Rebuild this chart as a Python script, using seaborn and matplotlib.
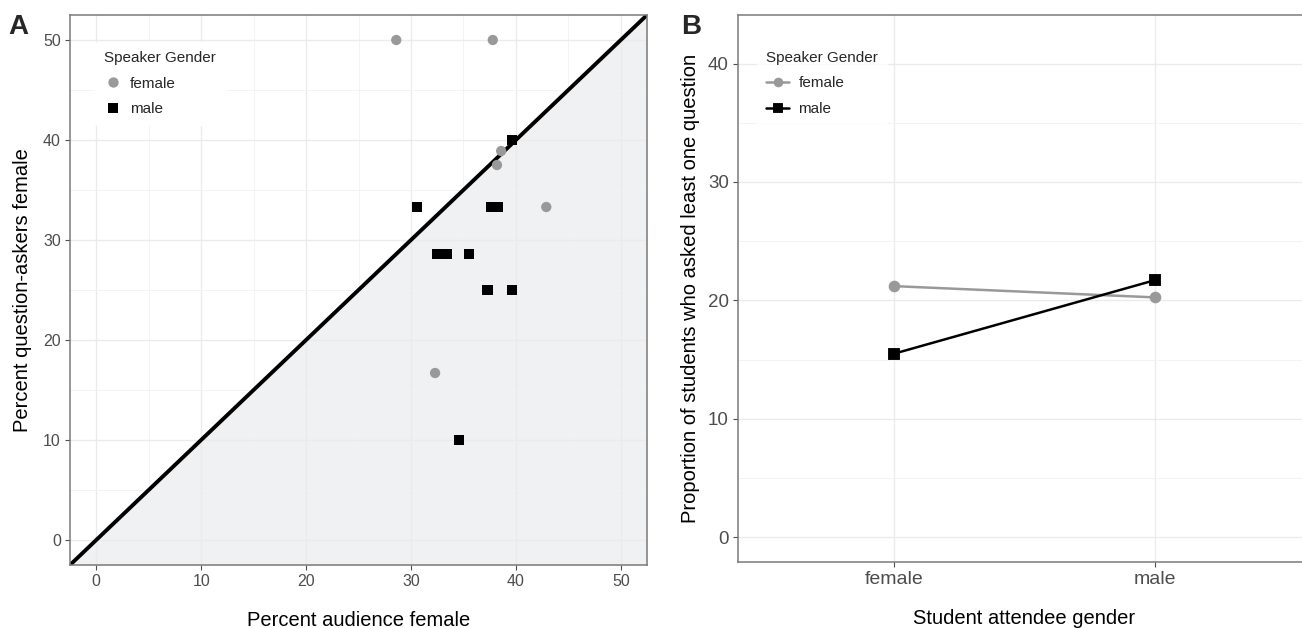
import numpy as np
import pandas as pd
import matplotlib
matplotlib.use("Agg")
import matplotlib.pyplot as plt
import seaborn as sns
from matplotlib.ticker import MultipleLocator

# ---------------- data ----------------
# Panel A: per-talk audience vs question-asker share (%)
female_aud = [28.6, 37.8, 38.6, 38.2, 42.9, 32.3]
female_ask = [50.0, 50.0, 38.9, 37.5, 33.3, 16.7]
male_aud = [39.6, 30.6, 37.6, 38.3, 32.5, 33.4, 35.5, 37.3, 39.6, 34.6]
male_ask = [40.0, 33.3, 33.3, 33.3, 28.6, 28.6, 28.6, 25.0, 25.0, 10.0]

# Panel B: proportion of students who asked at least one question
attendee_levels = ["female", "male"]
speaker_levels = ["female", "male"]
prop_female_speaker = [21.2, 20.25]
prop_male_speaker = [15.5, 21.7]

dfA = pd.DataFrame({
    "aud": female_aud + male_aud,
    "ask": female_ask + male_ask,
    "Speaker Gender": ["female"] * len(female_aud) + ["male"] * len(male_aud),
})
dfB = pd.DataFrame({
    "attendee": attendee_levels * 2,
    "prop": prop_female_speaker + prop_male_speaker,
    "Speaker Gender": ["female"] * 2 + ["male"] * 2,
})

# ---------------- style ----------------
sns.set_theme(style="white")
plt.rcParams["font.family"] = ["Liberation Sans", "DejaVu Sans"]

GREY = "#999999"
BLACK = "#000000"
pal = {"female": GREY, "male": BLACK}
TICKC = "#4d4d4d"
GRIDC = "#ebebeb"
BORDER = "#7a7a7a"

fig = plt.figure(figsize=(13.02, 6.28), dpi=100)
W, H = 1302, 628
axA = fig.add_axes([70 / W, (H - 565) / H, 577 / W, 550 / H])
axB = fig.add_axes([738 / W, (H - 562) / H, 573 / W, 547 / H])


def style_axes(ax, size):
    ax.set_axisbelow(True)
    ax.grid(True, which="major", color=GRIDC, lw=1.0, zorder=0.5)
    ax.grid(True, which="minor", color="#f3f3f3", lw=0.7, zorder=0.5)
    for s in ax.spines.values():
        s.set_color(BORDER)
        s.set_linewidth(1.1)
        s.set_visible(True)
    ax.tick_params(axis="both", which="major", colors=TICKC, labelsize=size,
                   length=3.5, width=0.8, direction="out", pad=3,
                   left=True, bottom=True)
    ax.tick_params(axis="both", which="minor", length=0)


# ---------------- Panel A ----------------
axA.set_xlim(-2.5, 52.5)
axA.set_ylim(-2.5, 52.5)
xs = np.array(axA.get_xlim())
axA.fill_between(xs, xs, -2.5, color="#f0f1f3", lw=0, zorder=0.2)
axA.axline((0, 0), slope=1, color=BLACK, lw=2.8, zorder=2)
sns.scatterplot(data=dfA, x="aud", y="ask", hue="Speaker Gender", style="Speaker Gender",
                hue_order=speaker_levels, style_order=speaker_levels,
                palette=pal, markers={"female": "o", "male": "s"},
                s=55, linewidth=0, alpha=1, ax=axA, zorder=3)
axA.xaxis.set_major_locator(MultipleLocator(10))
axA.yaxis.set_major_locator(MultipleLocator(10))
axA.xaxis.set_minor_locator(MultipleLocator(5))
axA.yaxis.set_minor_locator(MultipleLocator(5))
style_axes(axA, 11.5)
axA.set_xlabel("Percent audience female", fontsize=14.5, color=BLACK, labelpad=16)
axA.set_ylabel("Percent question-askers female", fontsize=14.5, color=BLACK, labelpad=8)

hA, lA = axA.get_legend_handles_labels()
legA = axA.legend(hA, lA, title="Speaker Gender", loc="upper left",
                  bbox_to_anchor=(0.03, 0.965), frameon=True, fontsize=11,
                  title_fontsize=11, handletextpad=0.5, borderpad=0.6,
                  labelspacing=0.75, handlelength=1.2, markerscale=1.0)
legA.get_frame().set_facecolor("white")
legA.get_frame().set_edgecolor("white")
legA.get_frame().set_alpha(1)
legA._legend_box.align = "left"

# ---------------- Panel B ----------------
sns.pointplot(data=dfB, x="attendee", y="prop", hue="Speaker Gender",
              order=attendee_levels, hue_order=speaker_levels, palette=pal,
              markers=["o", "s"], linestyles=["-", "-"], errorbar=None,
              dodge=False, ax=axB, markersize=7, linewidth=1.8)
axB.set_xlim(-0.6, 1.6)
axB.set_ylim(-2.1, 44.1)
axB.yaxis.set_major_locator(MultipleLocator(10))
axB.yaxis.set_minor_locator(MultipleLocator(5))
style_axes(axB, 13.5)
axB.tick_params(axis="x", labelsize=14)
axB.grid(True, which="major", axis="x", color=GRIDC, lw=1.0)
axB.set_xlabel("Student attendee gender", fontsize=14.5, color=BLACK, labelpad=15)
axB.set_ylabel("Proportion of students who asked least one question", fontsize=14.5,
               color=BLACK, labelpad=6)

hB, lB = axB.get_legend_handles_labels()
legB = axB.legend(hB, lB, title="Speaker Gender", loc="upper left",
                  bbox_to_anchor=(0.02, 0.965), frameon=True, fontsize=11,
                  title_fontsize=11, handletextpad=0.6, borderpad=0.6,
                  labelspacing=0.75, handlelength=1.5, markerscale=0.8)
legB.get_frame().set_facecolor("white")
legB.get_frame().set_edgecolor("white")
legB._legend_box.align = "left"

# panel letters
fig.text(8 / W, 1 - 14 / H, "A", fontsize=20, fontweight="bold", va="top", ha="left")
fig.text(681 / W, 1 - 14 / H, "B", fontsize=20, fontweight="bold", va="top", ha="left")

fig.savefig("out.png", dpi=100)
